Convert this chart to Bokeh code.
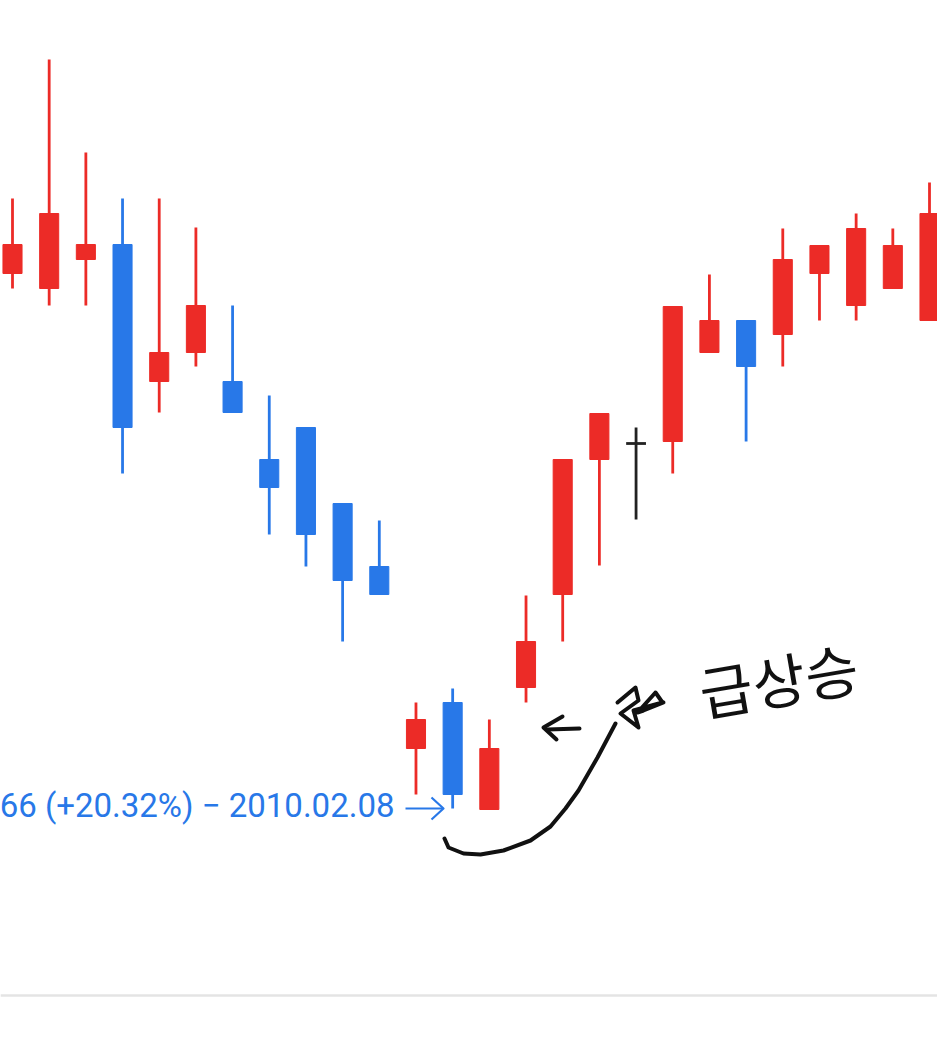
from bokeh.plotting import figure
from bokeh.models import Range1d, Span
from bokeh.core.properties import value
from bokeh.embed import file_html
from bokeh.resources import INLINE

# ---------------- data (price units) ----------------
idx = list(range(26))
opens  = [781, 766, 795, 810, 673, 702, 673, 595, 627, 551, 488, 306, 352,
          245, 367, 460, 595, 611, 613, 702, 734, 720, 781, 749, 766, 734]
highs  = [856, 995, 902, 856, 856, 827, 749, 659, 627, 551, 534, 352, 366,
          335, 459, 595, 641, 627, 748, 780, 734, 826, 809, 841, 826, 872]
lows   = [766, 749, 749, 581, 642, 688, 642, 520, 488, 413, 460, 260, 246,
          245, 352, 413, 489, 535, 581, 702, 613, 688, 734, 734, 766, 734]
closes = [810, 841, 810, 627, 702, 749, 642, 567, 520, 474, 460, 335, 260,
          306, 413, 595, 641, 611, 748, 734, 688, 795, 809, 826, 809, 841]
low_label = "66 (+20.32%) − 2010.02.08"
low_idx = 12
note_text = "급상승"

# ---------------- styles / layout ----------------
UP = "#ec2b27"
DOWN = "#2878e8"
FLAT = "#222222"
STEP = 36.68          # px per candle
W, H = 937, 1054
X0 = -12 / STEP

def sx(px):  # screen px -> x data
    return (px - 12) / STEP

def sy(py):  # screen px -> y data
    return 1054 - py

colors = [UP if c > o else (DOWN if c < o else FLAT) for o, c in zip(opens, closes)]

p = figure(width=W, height=H, output_backend="svg", toolbar_location=None,
           x_range=Range1d(X0, X0 + W / STEP), y_range=Range1d(0, 1054),
           x_axis_location=None, y_axis_location=None, min_border=0,
           background_fill_color="white", border_fill_color="white")
p.grid.visible = False
p.outline_line_color = None

p.add_layout(Span(location=sy(995), dimension="width", line_color="#e4e4e4",
                  line_width=2.5, level="underlay"))

# wicks
p.segment(x0=idx, y0=highs, x1=idx, y1=lows, line_color=colors, line_width=2.8)

# bodies
bi = [i for i in idx if opens[i] != closes[i]]
p.vbar(x=[i for i in bi], width=0.52,
       top=[max(opens[i], closes[i]) for i in bi],
       bottom=[min(opens[i], closes[i]) for i in bi],
       fill_color=[colors[i] for i in bi], line_color=[colors[i] for i in bi],
       line_width=1)

# doji
di = [i for i in idx if opens[i] == closes[i]]
p.segment(x0=[i - 0.27 for i in di], x1=[i + 0.27 for i in di],
          y0=[opens[i] for i in di], y1=[opens[i] for i in di],
          line_color=FLAT, line_width=2.8)

# low label + arrow pointing at the low candle
p.text(x=[sx(394)], y=[sy(805)], text=[low_label], text_align="right",
       text_baseline="alphabetic", text_font=value("Roboto"),
       text_font_size="33px", text_color=DOWN)
arrow = [[(405, 808), (442, 808)], [(431, 797), (443, 808), (431, 819)]]
p.multi_line(xs=[[sx(a) for a, b in s] for s in arrow],
             ys=[[sy(b) for a, b in s] for s in arrow],
             line_color=DOWN, line_width=2.2, line_join="round")

# hand-drawn annotation strokes
curve = [(444, 838), (448, 847), (463, 853), (480, 854), (503, 850), (530, 840),
         (550, 826), (565, 808), (578, 790), (597, 757), (615, 723)]
chev1 = [(562, 716), (543, 727), (556, 739)]
chev2 = [(547, 729), (579, 728)]
star = [(617, 702), (635, 687), (638, 700), (620, 713), (638, 727), (633, 710),
        (662, 702), (655, 692), (637, 712), (643, 710), (663, 702)]
strokes = [curve, chev1, chev2, star]
p.multi_line(xs=[[sx(a) for a, b in s] for s in strokes],
             ys=[[sy(b) for a, b in s] for s in strokes],
             line_color="#111111", line_width=4, line_cap="round", line_join="round")

p.text(x=[sx(778)], y=[sy(678)], text=[note_text], angle=0.17,
       text_align="center", text_baseline="middle",
       text_font=value("Noto Sans CJK KR"), text_font_size="58px",
       text_color="#111111")

open("out.html", "w").write(file_html(p, INLINE))
